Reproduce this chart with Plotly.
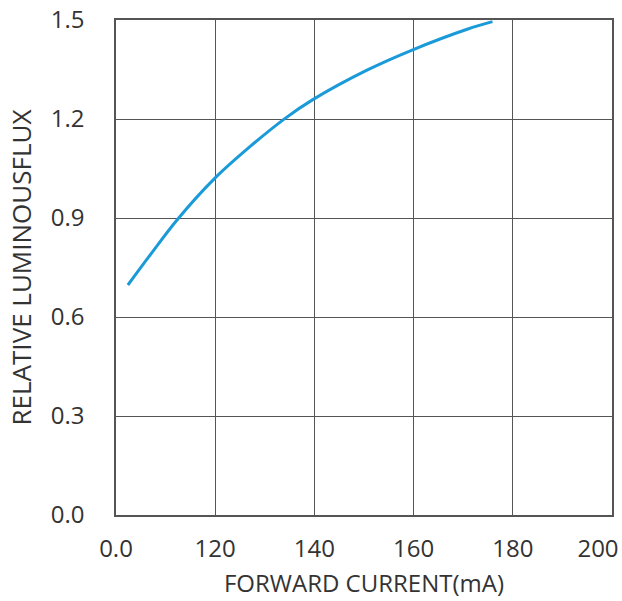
import plotly.graph_objects as go

# Data
forward_current = [102.4, 106.9, 112.3, 119.9, 127.0, 134.1, 139.6, 150.6, 159.7, 170.8, 175.9]
relative_flux = [0.697, 0.788, 0.894, 1.020, 1.116, 1.202, 1.258, 1.348, 1.409, 1.472, 1.495]

x_tick_vals = [100, 120, 140, 160, 180, 200]
x_tick_text = ["0.0", "120", "140", "160", "180", "200"]
y_tick_vals = [0.0, 0.3, 0.6, 0.9, 1.2, 1.5]
y_tick_text = ["0.0", "0.3", "0.6", "0.9", "1.2", "1.5"]

FONT = "Open Sans"
TXT = "#333333"
GRID = "#555555"
TICKFONT = dict(size=24, family=FONT, color=TXT)

fig = go.Figure()
fig.add_trace(go.Scatter(
    x=forward_current, y=relative_flux, mode="lines",
    line=dict(color="#1a9ad8", width=3, shape="spline", smoothing=1.0),
    showlegend=False, hoverinfo="x+y",
))
# empty trace so the overlay axis (last tick label) is drawn
fig.add_trace(go.Scatter(x=[], y=[], xaxis="x2", yaxis="y", mode="lines",
                         showlegend=False, hoverinfo="skip"))

fig.update_layout(
    width=622, height=601,
    margin=dict(l=116, r=10, t=20, b=86),
    paper_bgcolor="white", plot_bgcolor="white",
    font=dict(family=FONT, color=TXT),
    xaxis=dict(
        range=[100, 200], tickvals=x_tick_vals[:-1], ticktext=x_tick_text[:-1],
        tickfont=TICKFONT,
        showgrid=True, gridcolor=GRID, gridwidth=1.3,
        showline=True, linecolor=GRID, linewidth=1.5, mirror=True,
        zeroline=False, ticks="", ticklabelstandoff=11,
        title=dict(text="FORWARD CURRENT(mA)", font=dict(size=24, family=FONT, color=TXT), standoff=13),
        automargin=False,
    ),
    # overlay axis carrying only the last tick label, nudged left to stay inside the page
    xaxis2=dict(
        overlaying="x", side="bottom", anchor="y", range=[100, 200],
        tickvals=x_tick_vals[-1:], ticktext=x_tick_text[-1:],
        tickfont=TICKFONT, showgrid=False, showline=False, zeroline=False,
        ticks="", ticklabelstandoff=17, ticklabelshift=-14,
        ticklabeloverflow="allow", automargin=False,
    ),
    yaxis=dict(
        range=[0, 1.5], tickvals=y_tick_vals, ticktext=y_tick_text,
        tickfont=TICKFONT,
        showgrid=True, gridcolor=GRID, gridwidth=1.3,
        showline=True, linecolor=GRID, linewidth=1.5, mirror=True,
        zeroline=False, ticks="", ticklabelstandoff=25, ticklabeloverflow="allow",
        title=dict(text="RELATIVE LUMINOUSFLUX", font=dict(size=26, family=FONT, color=TXT), standoff=12),
        automargin=False,
    ),
)

# remove the default 8px page margin so the figure fills the window exactly
fig.write_html("out.html", config={"displayModeBar": False},
               post_script="document.body.style.margin='0';")
